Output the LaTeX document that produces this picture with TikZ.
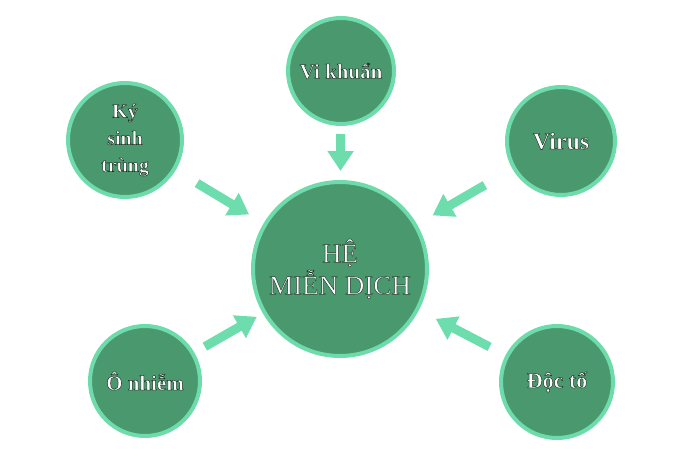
\documentclass[tikz,border=0pt]{standalone}
\usepackage{fontspec}
\setmainfont{Liberation Serif}
\usetikzlibrary{arrows.meta}
\definecolor{fillg}{HTML}{4A986E}
\definecolor{ringg}{HTML}{6EDCAA}
\definecolor{arrg}{HTML}{6DDDAE}
\newcommand\olt[2][0.5]{{\color{white}\special{pdf:literal direct q 2 Tr #1 w 1 j 0.12 0.2 0.15 RG 1 1 1 rg}#2\special{pdf:literal direct Q}}}
\tikzset{
  bub/.style={circle, fill=fillg, draw=ringg, line width=4pt, inner sep=0pt, align=center},
  arr/.style={draw=arrg, line width=9pt, -{Triangle[width=25pt,length=20pt]}, arrg}
}
\begin{document}
\begin{tikzpicture}[x=1pt,y=1pt]
\useasboundingbox (0,0) rectangle (700,468);
\node[bub, minimum size=174pt, font=\fontsize{27}{32}\selectfont] (c) at (340,199) {\olt[0.45]{HỆ}\\\olt[0.45]{MIỄN DỊCH}};
\node[bub, minimum size=106pt, font=\bfseries\fontsize{21}{26}\selectfont] (vk) at (341,397) {\olt{Vi khuẩn}};
\node[bub, minimum size=114pt, font=\bfseries\fontsize{20}{27}\selectfont] (kst) at (125,328) {\olt{Ký}\\\olt{sinh}\\\olt{trùng}};
\node[bub, minimum size=108pt, font=\bfseries\fontsize{24}{30}\selectfont] (vir) at (561,327) {\olt{Virus}};
\node[bub, minimum size=110pt, font=\bfseries\fontsize{21}{28}\selectfont] (on) at (145,87) {\olt{Ô nhiễm}};
\node[bub, minimum size=112pt, font=\bfseries\fontsize{22}{28}\selectfont] (dt) at (557,86) {\olt{Độc tố}};
\draw[arr, shorten <=8pt, shorten >=9pt] (vk) -- (c);
\draw[arr, shorten <=25pt, shorten >=17pt] (kst) -- (c);
\draw[arr, shorten <=32pt, shorten >=18pt] (vir) -- (c);
\draw[arr, shorten <=12pt, shorten >=7pt] (on) -- (c);
\draw[arr, shorten <=18pt, shorten >=19pt] (dt) -- (c);
\end{tikzpicture}
\end{document}
